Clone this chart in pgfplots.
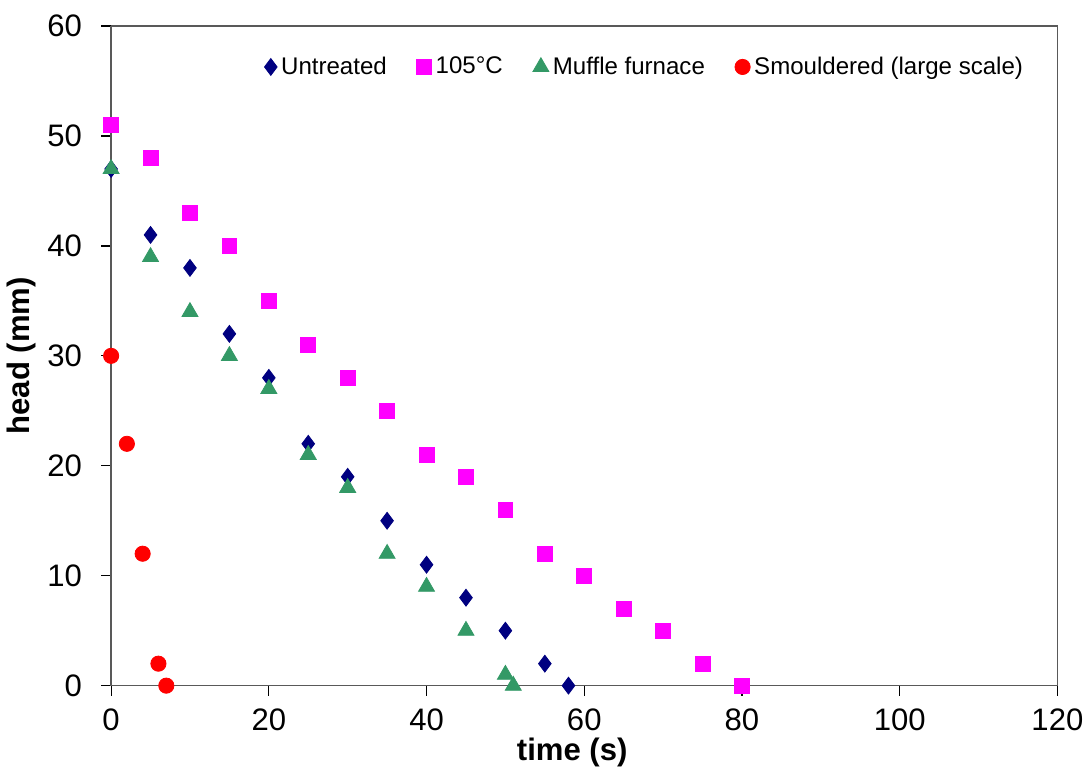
\documentclass[border=0pt]{standalone}
\usepackage{pgfplots}
\pgfplotsset{compat=1.18}
\usepackage{fontspec}
\setmainfont{Liberation Sans}

\definecolor{untreated}{HTML}{000080}
\definecolor{oven}{HTML}{FF00FF}
\definecolor{muffle}{HTML}{339966}
\definecolor{smould}{HTML}{FF0000}
\definecolor{axisgray}{HTML}{595959}

\begin{document}
\begin{tikzpicture}
\begin{axis}[
  scale only axis,
  width=472pt, height=329pt,
  xmin=0, xmax=120, ymin=0, ymax=60,
  xtick={0,20,...,120}, ytick={0,10,...,60},
  tick align=outside,
  major tick length=5pt,
  tick style={black, line width=0.6pt},
  axis line style={axisgray, line width=0.7pt},
  axis x line*=bottom, axis y line*=left,
  clip=false,
  /pgf/number format/assume math mode=true,
  ticklabel style={font=\fontsize{15.5}{18}\selectfont},
  xticklabel style={yshift=-3pt},
  yticklabel style={xshift=-6pt},
  xlabel={\textbf{time (s)}},
  ylabel={\textbf{head (mm)}},
  label style={font=\fontsize{15.5}{18}\selectfont},
  xlabel style={yshift=1pt, xshift=-6pt, inner sep=1pt},
  ylabel style={yshift=-1pt},
  legend columns=4,
  legend style={draw=none, fill=none, at={(0.565,0.938)}, anchor=center,
    font=\fontsize{12}{14}\selectfont,
    /tikz/every even column/.append style={column sep=13pt}},
  legend cell align=left,
]
% frame on the top and right sides
\draw[axisgray, line width=0.7pt] (rel axis cs:0,1) -- (rel axis cs:1,1) -- (rel axis cs:1,0);
% a little white space above the top tick label
\path (rel axis cs:0,1) ++(0,13pt);

\addplot[only marks, mark=diamond*, mark size=4.2pt, color=untreated, mark options={fill=untreated, draw=untreated}]
  coordinates {(0,47) (5,41) (10,38) (15,32) (20,28) (25,22) (30,19) (35,15) (40,11) (45,8) (50,5) (55,2) (58,0)};
\addlegendentry{Untreated}

\addplot[only marks, mark=square*, mark size=3.7pt, color=oven, mark options={fill=oven, draw=oven}]
  coordinates {(0,51) (5,48) (10,43) (15,40) (20,35) (25,31) (30,28) (35,25) (40,21) (45,19) (50,16) (55,12) (60,10) (65,7) (70,5) (75,2) (80,0)};
\addlegendentry{105°C}

\addplot[only marks, mark=triangle*, mark size=4.6pt, color=muffle, mark options={fill=muffle, draw=muffle}]
  coordinates {(0,47) (5,39) (10,34) (15,30) (20,27) (25,21) (30,18) (35,12) (40,9) (45,5) (50,1) (51,0)};
\addlegendentry{Muffle furnace}

\addplot[only marks, mark=*, mark size=3.8pt, color=smould, mark options={fill=smould, draw=smould}]
  coordinates {(0,30) (2,22) (4,12) (6,2) (7,0)};
\addlegendentry{Smouldered (large scale)}
\end{axis}
\end{tikzpicture}
\end{document}
